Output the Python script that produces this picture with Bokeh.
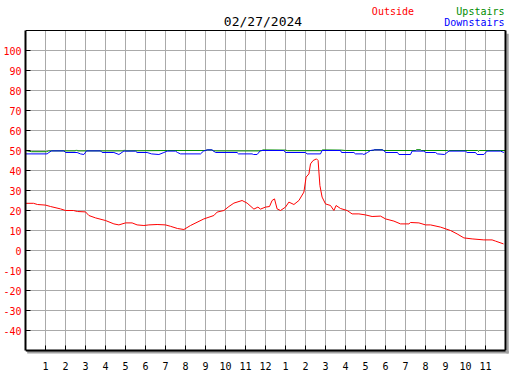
from bokeh.plotting import figure
from bokeh.models import FixedTicker, Label, Range1d
from bokeh.embed import file_html
from bokeh.resources import INLINE

# ---- data (hours since midnight, temperature) ----
title_text = "02/27/2024"
series_names = ["Outside", "Upstairs", "Downstairs"]

outside_h = [0, 0.4, 0.6, 1.0, 1.25, 1.75, 2.0, 2.4, 2.6, 3.0, 3.17, 3.5, 4.0, 4.42, 4.67, 5.0,
             5.33, 5.58, 5.92, 6.17, 6.58, 7.0, 7.25, 7.6, 7.92, 8.25, 8.92, 9.42, 9.58, 9.92,
             10.17, 10.42, 10.83, 11.08, 11.42, 11.62, 11.75, 12.0, 12.2, 12.33, 12.45, 12.58,
             12.75, 13.0, 13.17, 13.42, 13.67, 13.92, 14.03, 14.17, 14.25, 14.38, 14.55, 14.63,
             14.72, 14.83, 15.0, 15.25, 15.42, 15.53, 15.75, 16.08, 16.33, 16.67, 17.0, 17.33,
             17.75, 18.0, 18.42, 18.75, 19.17, 19.25, 19.67, 20.0, 20.25, 20.75, 21.25, 21.58,
             21.92, 22.33, 22.92, 23.33, 23.5, 23.9]
outside_v = [23.6, 23.6, 23.0, 22.7, 22.0, 20.8, 20.0, 20.0, 19.5, 19.3, 17.5, 16.3, 15.0, 13.3,
             12.8, 13.8, 13.8, 12.8, 12.5, 12.8, 13.0, 12.8, 12.1, 11.0, 10.5, 12.5, 15.8, 17.5,
             19.2, 20.0, 22.0, 23.7, 25.0, 23.7, 20.7, 21.7, 20.7, 21.7, 22.0, 25.0, 25.8, 20.8,
             20.0, 21.7, 24.2, 23.0, 25.0, 29.2, 36.7, 38.3, 43.3, 45.0, 45.8, 45.0, 32.5, 26.7,
             23.3, 22.5, 20.0, 22.5, 21.0, 20.0, 18.3, 18.3, 17.8, 17.0, 17.2, 15.8, 14.7, 13.3,
             13.3, 14.0, 13.8, 12.8, 12.8, 11.7, 10.0, 8.3, 6.3, 5.8, 5.3, 5.3, 4.7, 3.3]

upstairs_h = [0, 0.3, 1.05, 1.15, 2.5, 2.55, 2.6, 4.9, 4.95, 5.0, 7.1, 9.0, 9.1, 9.3, 9.4, 11.8,
              11.85, 13.0, 13.1, 14.8, 14.85, 15.8, 16.0, 17.4, 17.45, 17.85, 17.9, 19.5, 19.55,
              19.75, 19.8, 21.1, 21.15, 21.2, 22.6, 22.65, 22.7, 24.0]
upstairs_v = [50.0, 49.4, 49.4, 49.8, 49.8, 50.3, 49.8, 49.8, 50.3, 49.8, 50.0, 50.0, 50.3, 50.3,
              49.8, 49.8, 50.3, 50.2, 49.9, 49.9, 50.3, 50.2, 50.0, 50.0, 50.4, 50.4, 50.0, 50.0,
              50.4, 50.4, 50.0, 50.0, 49.5, 50.0, 50.0, 49.5, 50.0, 50.0]

downstairs_h = [0, 1.08, 1.17, 1.3, 1.92, 2.0, 2.58, 2.75, 2.92, 3.05, 3.75, 3.83, 4.42, 4.67,
                4.92, 5.5, 5.58, 6.08, 6.3, 6.67, 6.92, 7.08, 7.5, 7.6, 7.75, 8.75, 8.9, 9.08,
                9.33, 9.5, 10.58, 10.65, 11.33, 11.4, 11.58, 11.75, 12.92, 13.0, 14.0, 14.08,
                14.75, 14.83, 15.75, 15.8, 16.42, 16.5, 16.85, 16.92, 17.1, 17.25, 17.42, 17.83,
                17.92, 18.0, 18.6, 18.67, 19.25, 19.33, 19.92, 20.0, 20.5, 20.6, 20.95, 21.17,
                22.0, 22.08, 22.5, 22.58, 22.92, 23.08, 23.75, 23.92]
downstairs_v = [48.3, 48.3, 49.0, 49.8, 49.8, 49.0, 49.0, 48.3, 48.0, 49.8, 49.8, 49.0, 49.0,
                48.0, 49.7, 49.7, 49.0, 49.0, 48.3, 48.0, 49.0, 49.7, 49.7, 49.0, 48.3, 48.3,
                49.7, 50.3, 50.3, 49.0, 49.0, 48.3, 48.3, 48.0, 48.0, 50.0, 50.0, 49.0, 49.0,
                48.3, 48.3, 50.0, 50.0, 49.0, 49.0, 48.3, 48.3, 48.0, 49.0, 50.0, 50.3, 50.3,
                50.0, 49.0, 49.0, 48.0, 48.0, 49.7, 49.7, 49.0, 49.0, 48.3, 48.0, 49.7, 49.7,
                49.0, 49.0, 48.0, 48.0, 49.7, 49.7, 49.0]

x_ticks = list(range(1, 24))
x_tick_labels = ["1", "2", "3", "4", "5", "6", "7", "8", "9", "10", "11", "12",
                 "1", "2", "3", "4", "5", "6", "7", "8", "9", "10", "11"]
y_ticks = list(range(-40, 101, 10))

# ---- geometry ----
FONT = "DejaVu Sans Mono"
X0, X1, Y0, Y1 = 0, 24, -50, 110        # plotted area
PX_X, PX_Y = 20.0, 2.0                  # pixels per unit
LEFT, FW, RIGHT = 25, 485, 17           # frame extends 5px right of the plot box (shadow)
TOP, FH, BOTTOM = 0, 354, 16            # frame includes the title strip and 4px below
dx, dy = 1 / PX_X, 1 / PX_Y             # one pixel in data units
XR = (X0, X0 + FW * dx)
YR = (Y0 - 4 * dy, Y0 + (FH - 4) * dy)

p = figure(frame_width=FW, frame_height=FH, output_backend="svg", toolbar_location=None,
           title=None, x_range=Range1d(*XR), y_range=Range1d(*YR),
           min_border_left=LEFT, min_border_right=RIGHT, min_border_top=TOP,
           min_border_bottom=BOTTOM)
p.background_fill_color = "white"
p.border_fill_color = "white"
p.outline_line_color = None
p.xgrid.visible = False
p.ygrid.visible = False

# y axis (left)
ya = p.yaxis[0]
ya.bounds = (Y0, Y1)
ya.axis_line_color = "black"
ya.axis_line_width = 2
ya.major_tick_in = 5
ya.major_tick_out = 0
ya.major_tick_line_color = "black"
ya.minor_tick_line_color = None
ya.ticker = FixedTicker(ticks=y_ticks)
ya.major_label_overrides = {t: str(t) for t in y_ticks}
ya.major_label_text_color = "#ff0000"
ya.major_label_text_font = FONT
ya.major_label_text_font_size = "10px"
ya.major_label_standoff = 4

# x axis (bottom): labels only, line/ticks drawn at the plot box edge below
xa = p.xaxis[0]
xa.axis_line_color = None
xa.major_tick_line_color = None
xa.minor_tick_line_color = None
xa.ticker = FixedTicker(ticks=x_ticks)
xa.major_label_overrides = {t: l for t, l in zip(x_ticks, x_tick_labels)}
xa.major_label_text_color = "black"
xa.major_label_text_font = FONT
xa.major_label_text_font_size = "10px"
xa.major_label_standoff = 1

# grid lines
p.segment(x0=x_ticks, y0=Y0, x1=x_ticks, y1=Y1, line_color="#aaaaaa", line_width=1)
p.segment(x0=X0, y0=y_ticks, x1=X1, y1=y_ticks, line_color="#aaaaaa", line_width=1)

# data
p.line(outside_h, outside_v, line_color="#ff0000", line_width=1)
p.line(upstairs_h, upstairs_v, line_color="#008c00", line_width=1)
p.line(downstairs_h, downstairs_v, line_color="#0000ff", line_width=1)

# shadow of the plot box
p.quad(left=[X1 + 1 * dx, X0 + 1.7 * dx], right=[X1 + 3.2 * dx, X1 + 3.2 * dx],
       top=[Y1 - 3.3 * dy, Y0 - 0.6 * dy], bottom=[Y0 - 3 * dy, Y0 - 3 * dy],
       fill_color="#a0a0a0", line_color=None)

# plot box borders and bottom ticks
p.segment(x0=X0, y0=Y0, x1=X1, y1=Y0, line_color="black", line_width=2)
p.segment(x0=X1, y0=Y0, x1=X1, y1=Y1, line_color="black", line_width=2)
p.segment(x0=X0, y0=Y1, x1=X1, y1=Y1, line_color="black", line_width=1.2)
p.segment(x0=x_ticks, y0=Y0, x1=x_ticks, y1=Y0 + 5 * dy, line_color="black", line_width=1)

# title and legend texts
texts = [(title_text, X0 + 237.5 * dx, Y1 + 8.8 * dy, "center", "13px", "black"),
         (series_names[0], X0 + 388.5 * dx, Y1 + 19.3 * dy, "right", "10px", "#ff0000"),
         (series_names[1], X0 + 479 * dx, Y1 + 19.3 * dy, "right", "10px", "#008c00"),
         (series_names[2], X0 + 479 * dx, Y1 + 7.6 * dy, "right", "10px", "#0000ff")]
for txt, x, y, align, size, color in texts:
    p.add_layout(Label(x=x, y=y, text=txt,
                       text_font=FONT, text_font_size=size, text_color=color,
                       text_align=align, text_baseline="alphabetic"))

open("out.html", "w").write(file_html(p, INLINE))
